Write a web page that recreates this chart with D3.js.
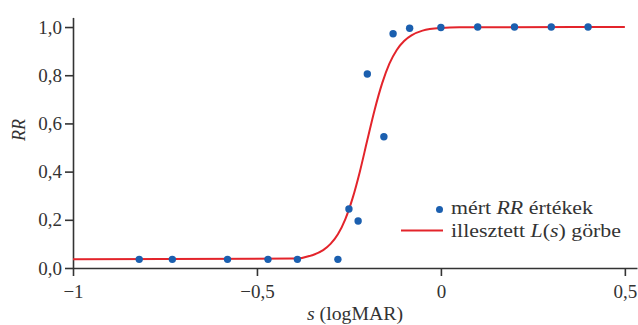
<!DOCTYPE html>
<html>
<head>
<meta charset="utf-8">
<script src="https://cdn.jsdelivr.net/npm/d3@7"></script>
<style>
    body { margin: 0; background: #fff; }
</style>
</head>
<body>
<div id="chart"></div>
<script>
'use strict';

// measured RR values
const sValues = [-0.82, -0.73, -0.58, -0.47, -0.39, -0.28, -0.25, -0.225, -0.2, -0.155, -0.13, -0.085, 0, 0.1, 0.2, 0.3, 0.4];
const rrValues = [0.036, 0.036, 0.036, 0.036, 0.036, 0.036, 0.245, 0.195, 0.805, 0.545, 0.972, 0.995, 0.998, 1, 1, 1, 1];

// fitted L(s) curve
const curveS = [-1, -0.40, -0.35, -0.32, -0.30, -0.28, -0.26, -0.24, -0.22, -0.20, -0.18, -0.16, -0.14, -0.12, -0.10, -0.08, -0.05, 0, 0.05, 0.5];
const curveL = [0.036, 0.039, 0.053, 0.074, 0.100, 0.140, 0.202, 0.290, 0.402, 0.531, 0.657, 0.765, 0.848, 0.905, 0.942, 0.965, 0.985, 0.996, 0.999, 1];

const xTicks = [-1, -0.5, 0, 0.5];
const yTicks = [0, 0.2, 0.4, 0.6, 0.8, 1];

const width = 638,
      height = 325,
      font = '"Liberation Serif", "Times New Roman", serif';

const fmt = function (v) {
    if (v === 0) return '0';
    let s = Math.abs(v) === 1 ? '1' : d3.format('.1f')(Math.abs(v));
    return (v < 0 ? '\u2212' : '') + s.replace('.', ',');
};

const svg = d3.select('#chart').append('svg')
    .attr('width', width)
    .attr('height', height)
    .style('font-family', font);

const x = d3.scaleLinear().domain([-1, 0.533]).range([73, 637]);
const y = d3.scaleLinear().domain([0, 1.04]).range([268, 17.4]);

// axes
let xAxis = svg.append('g')
    .attr('transform', 'translate(0,' + y(0) + ')')
    .call(d3.axisBottom(x).tickValues(xTicks).tickSize(8).tickSizeOuter(0).tickPadding(9).tickFormat(fmt));

let yAxis = svg.append('g')
    .attr('transform', 'translate(' + x(-1) + ',0)')
    .call(d3.axisLeft(y).tickValues(yTicks).tickSize(8).tickSizeOuter(0).tickPadding(3)
        .tickFormat(function (d) { return d3.format('.1f')(d).replace('.', ','); }));

svg.selectAll('g').attr('font-family', null).attr('font-size', null);

svg.selectAll('.domain, .tick line')
    .attr('stroke', '#333')
    .attr('stroke-width', 1.6);

svg.selectAll('.tick text')
    .style('font-family', font)
    .attr('font-size', 19)
    .attr('fill', '#333');

yAxis.selectAll('.tick text').attr('dy', '0.32em');

// axis titles
svg.append('text')
    .attr('x', 307)
    .attr('y', 320)
    .attr('font-size', 18)
    .attr('textLength', 96)
    .attr('lengthAdjust', 'spacingAndGlyphs')
    .style('font-family', font)
    .attr('fill', '#333')
    .html('<tspan font-style="italic">s</tspan> (logMAR)');

svg.append('text')
    .attr('transform', 'translate(25,130) rotate(-90)')
    .attr('text-anchor', 'middle')
    .attr('font-size', 18)
    .style('font-family', font)
    .attr('fill', '#333')
    .attr('font-style', 'italic')
    .text('RR');

// fitted curve
const line = d3.line()
    .x(function (d, i) { return x(curveS[i]); })
    .y(function (d) { return y(d); })
    .curve(d3.curveMonotoneX);

svg.append('path')
    .datum(curveL)
    .attr('d', line)
    .attr('fill', 'none')
    .attr('stroke', '#e3242b')
    .attr('stroke-width', 2);

// measured points
svg.append('g').selectAll('circle')
    .data(rrValues)
    .enter()
    .append('circle')
    .attr('cx', function (d, i) { return x(sValues[i]); })
    .attr('cy', function (d) { return y(d); })
    .attr('r', 3.7)
    .attr('fill', '#1b5faf');

// legend
let legend = svg.append('g');

legend.append('circle')
    .attr('cx', 439.5)
    .attr('cy', 209.5)
    .attr('r', 3.5)
    .attr('fill', '#1b5faf');

legend.append('text')
    .attr('x', 451)
    .attr('y', 214)
    .attr('font-size', 18)
    .attr('textLength', 142)
    .attr('lengthAdjust', 'spacingAndGlyphs')
    .style('font-family', font)
    .attr('fill', '#333')
    .html('mért <tspan font-style="italic">RR</tspan> értékek');

legend.append('line')
    .attr('x1', 401)
    .attr('x2', 443)
    .attr('y1', 230.5)
    .attr('y2', 230.5)
    .attr('stroke', '#e3242b')
    .attr('stroke-width', 2);

legend.append('text')
    .attr('x', 451)
    .attr('y', 237)
    .attr('font-size', 18)
    .attr('textLength', 170)
    .attr('lengthAdjust', 'spacingAndGlyphs')
    .style('font-family', font)
    .attr('fill', '#333')
    .html('illesztett <tspan font-style="italic">L</tspan>(<tspan font-style="italic">s</tspan>) görbe');
</script>
</body>
</html>
